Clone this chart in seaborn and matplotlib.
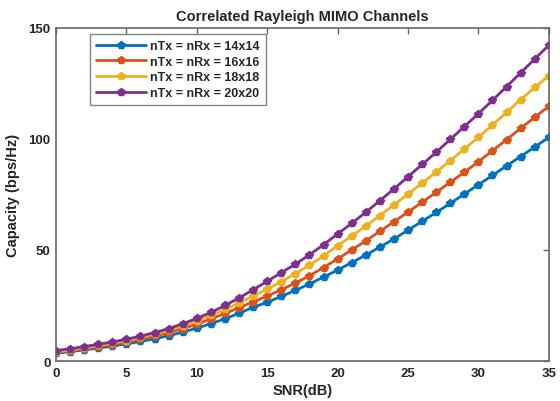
import numpy as np
import pandas as pd
import matplotlib
matplotlib.use("Agg")
import matplotlib.pyplot as plt
import seaborn as sns

snr_db = list(range(0, 36))
cap_14 = [3.5, 4.2, 5.0, 5.8, 6.7, 7.7, 8.8, 10.0, 11.4, 13.0, 14.8, 16.8, 19.0, 21.5, 24.2,
          26.4, 29.1, 31.8, 34.7, 37.8, 41.0, 44.3, 47.7, 51.3, 55.0, 58.9, 62.9, 66.9, 71.0,
          75.2, 79.4, 83.6, 87.9, 92.1, 96.4, 100.7]
cap_16 = [3.9, 4.6, 5.5, 6.4, 7.4, 8.5, 9.8, 11.2, 12.8, 14.6, 16.6, 18.9, 21.4, 24.0, 26.6,
          29.2, 32.1, 35.1, 38.4, 42.1, 46.0, 50.0, 54.1, 58.4, 62.7, 67.1, 71.5, 76.0, 80.5,
          85.0, 89.8, 94.7, 99.7, 104.8, 109.8, 114.7]
cap_18 = [4.2, 5.0, 6.0, 7.0, 8.0, 9.2, 10.6, 12.1, 13.8, 15.8, 18.0, 20.5, 23.2, 26.2, 29.3,
          32.4, 35.7, 39.4, 43.2, 47.3, 51.9, 56.3, 60.8, 65.5, 70.3, 75.2, 80.1, 85.1, 90.2,
          95.5, 100.8, 106.3, 112.0, 117.7, 123.2, 128.5]
cap_20 = [4.7, 5.5, 6.5, 7.5, 8.6, 9.8, 11.2, 12.8, 14.6, 16.8, 19.2, 21.9, 25.0, 28.4, 32.1,
          35.9, 39.8, 43.6, 47.8, 52.4, 57.2, 62.0, 67.0, 72.2, 77.5, 83.0, 88.5, 94.0, 99.8,
          105.6, 111.4, 117.4, 123.6, 129.8, 136.0, 142.2]
labels = ["nTx = nRx = 14x14", "nTx = nRx = 16x16", "nTx = nRx = 18x18", "nTx = nRx = 20x20"]
colors = ["#0072BD", "#D95319", "#EDB120", "#7E2F8E"]

frames = []
for lab, vals in zip(labels, [cap_14, cap_16, cap_18, cap_20]):
    frames.append(pd.DataFrame({"SNR": snr_db, "Capacity": vals, "Config": lab}))
df = pd.concat(frames, ignore_index=True)

sns.set_style("white")
plt.rcParams["font.family"] = ["Liberation Sans", "DejaVu Sans"]
plt.rcParams["font.weight"] = "bold"

fig = plt.figure(figsize=(5.6, 4.02), dpi=100)
ax = fig.add_axes([0.1, 0.0995, 0.88, 0.8285])

sns.lineplot(data=df, x="SNR", y="Capacity", hue="Config", hue_order=labels,
             palette=colors, marker="p", markersize=5.5, markeredgewidth=1.0,
             linewidth=2, ax=ax, legend=True)
for line in ax.get_lines():
    line.set_markeredgecolor(line.get_color())

ax.set_xlim(0, 35)
ax.set_ylim(0, 150)
ax.set_xticks([0, 5, 10, 15, 20, 25, 30, 35])
ax.set_yticks([0, 50, 100, 150])
ax.tick_params(direction="in", top=True, right=True, length=4, width=1,
               color="#666666", labelsize=9.5, pad=4)
for lbl in ax.get_xticklabels() + ax.get_yticklabels():
    lbl.set_fontweight("bold")
for s in ax.spines.values():
    s.set_color("#666666")
    s.set_linewidth(1.2)

ax.set_xlabel("SNR(dB)", fontsize=10.5, fontweight="bold", labelpad=3)
ax.set_ylabel("Capacity (bps/Hz)", fontsize=10.5, fontweight="bold", labelpad=6)
ax.set_title("Correlated Rayleigh MIMO Channels", fontsize=10.5, fontweight="bold", pad=6)

leg = ax.legend(loc="upper left", bbox_to_anchor=(0.07, 0.981), borderaxespad=0,
                frameon=True, prop={"weight": "bold", "size": 9}, handlelength=4.0,
                borderpad=0.45, labelspacing=0.3, fancybox=False, edgecolor="#666666",
                handletextpad=0.35)
leg.get_frame().set_linewidth(1.0)

fig.savefig("out.png", dpi=100)
